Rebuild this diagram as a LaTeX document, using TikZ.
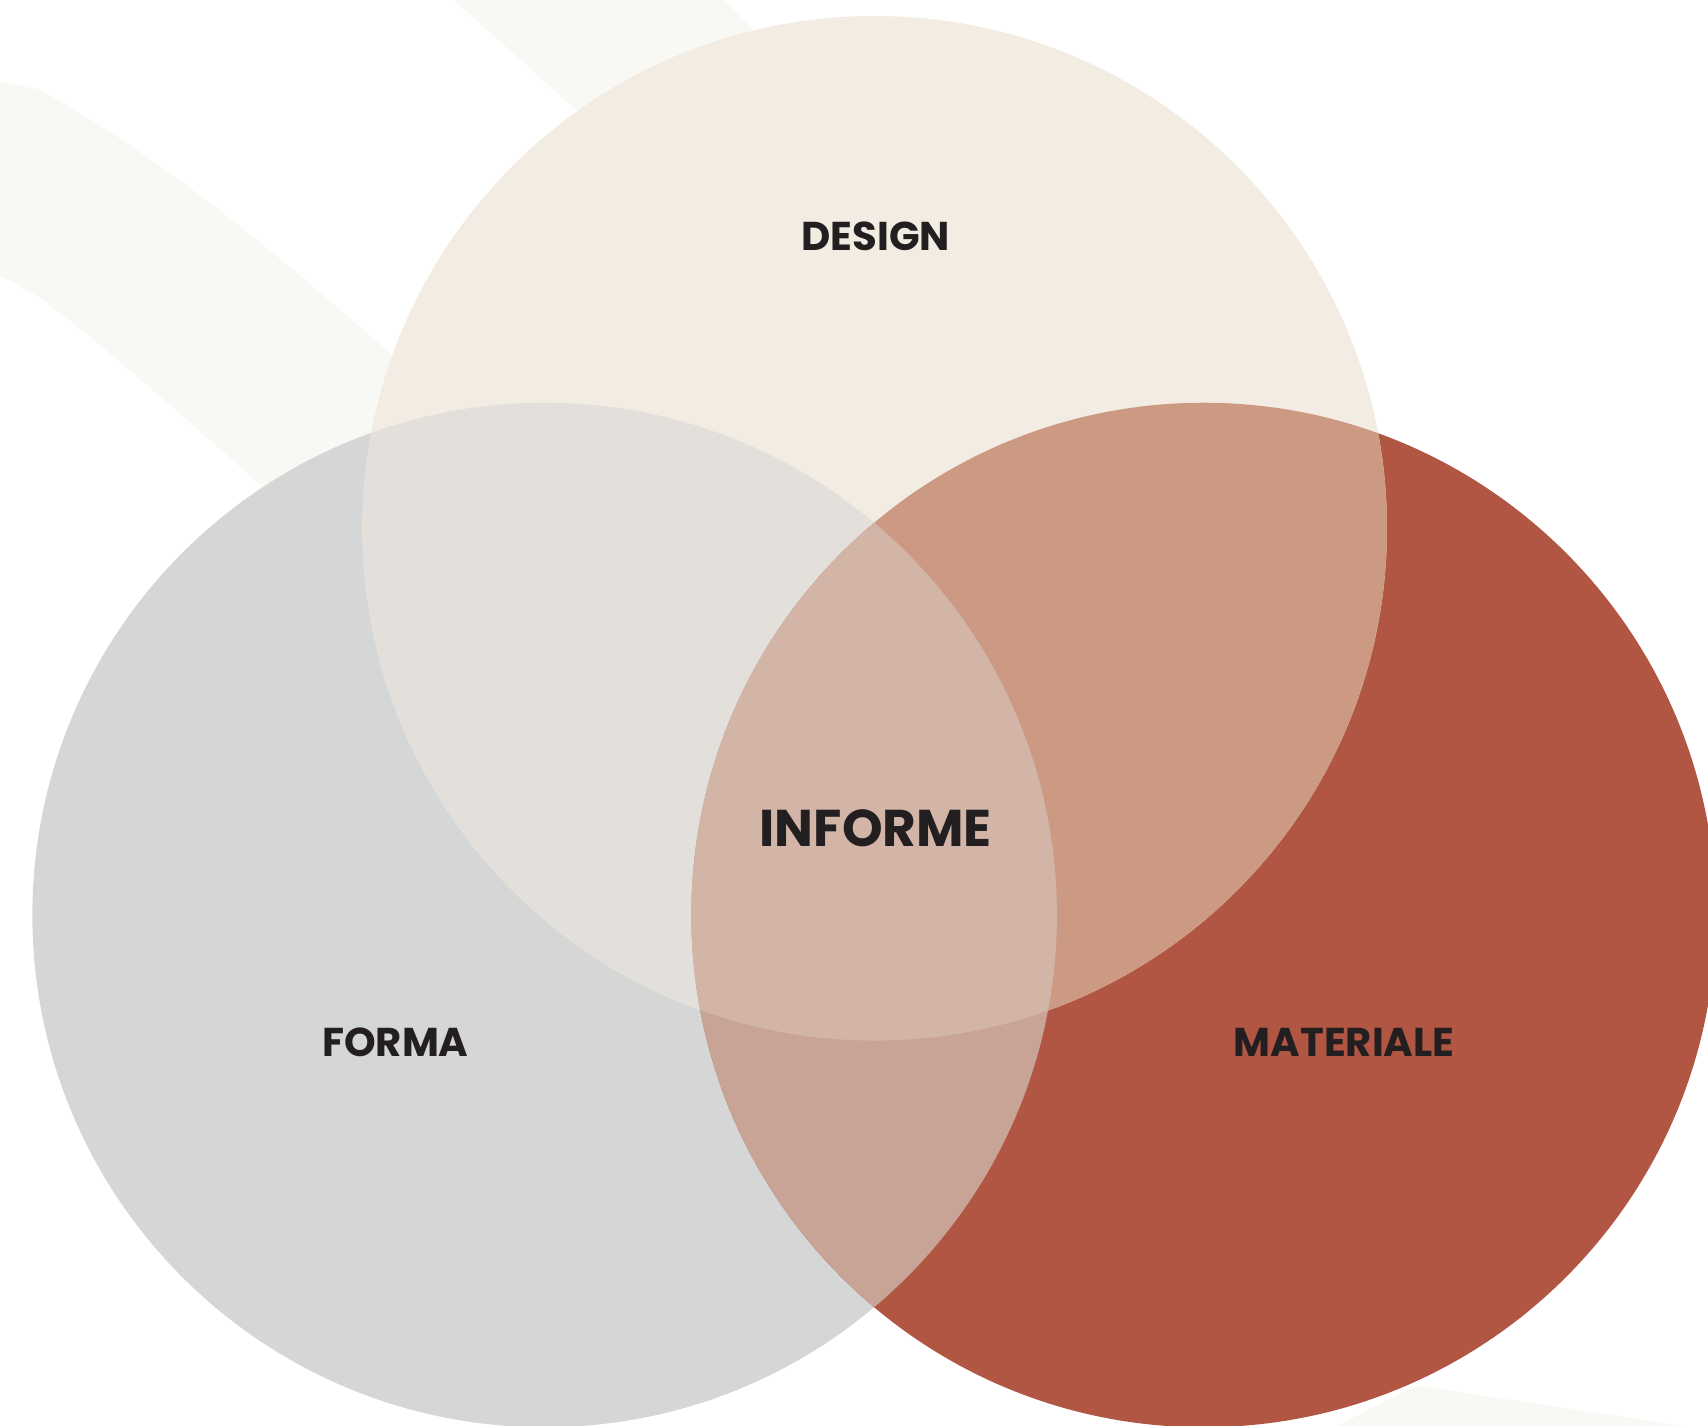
\documentclass[tikz,border=0pt]{standalone}
\usepackage{fontspec}
\setmainfont{Poppins}
\usepackage{tikz}
\definecolor{sand1}{RGB}{243,236,226}
\definecolor{grey1}{RGB}{213,214,214}
\definecolor{rust1}{RGB}{176,86,67}
\definecolor{sandgrey}{RGB}{227,224,219}
\definecolor{sandrust}{RGB}{204,153,131}
\definecolor{greyrust}{RGB}{200,164,151}
\definecolor{core1}{RGB}{211,181,168}
\definecolor{band1}{RGB}{248,248,244}
\definecolor{ink1}{RGB}{35,31,32}
\def\rad{4.7cm}

\begin{document}
\begin{tikzpicture}[x=0.01cm, y=-0.01cm,
    setlabel/.style={text=ink1, font=\bfseries\fontsize{10.5}{12}\selectfont},
    corelabel/.style={text=ink1, font=\bfseries\fontsize{13.5}{16}\selectfont}]
    \useasboundingbox (0,0) rectangle (1568,1309);
    \clip (0,0) rectangle (1568,1309);
    \fill[white] (0,0) rectangle (1568,1309);

    % faint bands in the background
    \fill[band1] (0,75) -- (35,82) .. controls (150,145) and (260,235) .. (420,380)
        -- (300,500) .. controls (200,410) and (100,320) .. (35,272) -- (0,253) -- cycle;
    \fill[band1] (417,0) -- (600,165) -- (760,100) -- (665,0) -- cycle;
    \fill[band1] (1228,1309) -- (1300,1272) -- (1545,1309) -- cycle;

    \coordinate (design) at (803,485);
    \coordinate (forma) at (500,840);
    \coordinate (materiale) at (1105,840);

    % the three sets
    \fill[grey1] (forma) circle (\rad);
    \fill[rust1] (materiale) circle (\rad);
    \fill[sand1] (design) circle (\rad);

    % pairwise overlaps
    \begin{scope}
        \clip (design) circle (\rad);
        \fill[sandgrey] (forma) circle (\rad);
        \fill[sandrust] (materiale) circle (\rad);
    \end{scope}
    \begin{scope}
        \clip (forma) circle (\rad);
        \fill[greyrust] (materiale) circle (\rad);
        \clip (materiale) circle (\rad);
        \fill[core1] (design) circle (\rad);
    \end{scope}

    \node[setlabel] (designlbl) at (804,217) {DESIGN};
    \node[setlabel] (formalbl) at (363,957) {FORMA};
    \node[setlabel] (materialelbl) at (1234,957) {MATERIALE};
    \node[corelabel] (informelbl) at (804,760) {INFORME};
\end{tikzpicture}
\end{document}
